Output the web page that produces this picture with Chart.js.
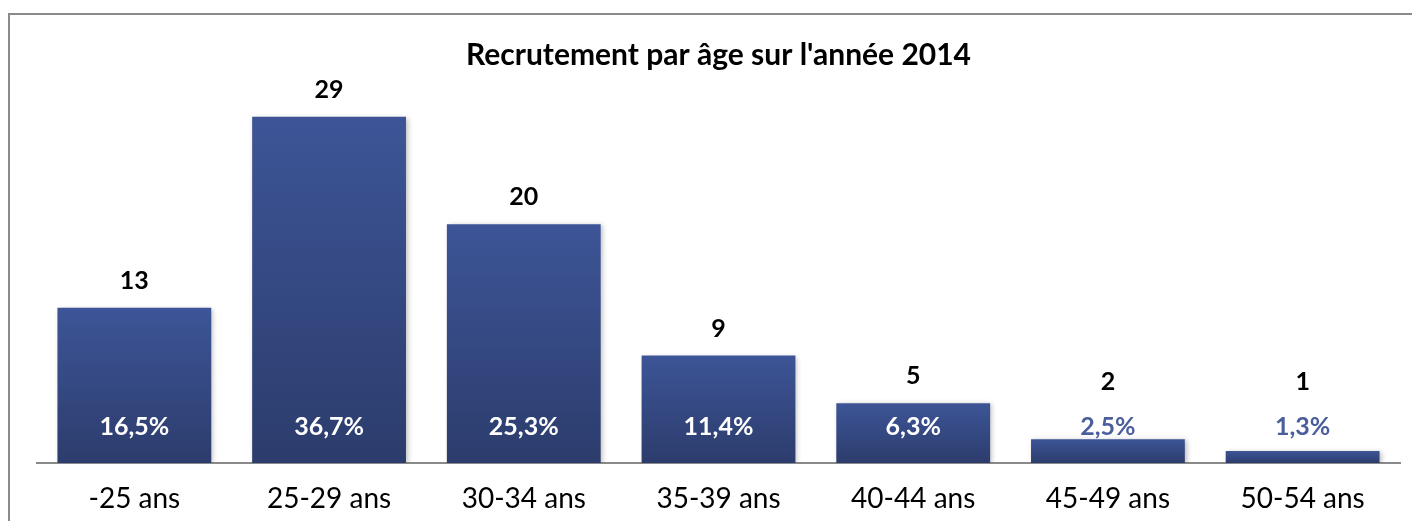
<!DOCTYPE html>
<html>
<head>
<meta charset="utf-8">
<script src="https://cdn.jsdelivr.net/npm/chart.js@4"></script>
<style>
  body { margin: 0; background: #fff; overflow: hidden; }
  #wrap { position: relative; width: 1412px; height: 521px; overflow: hidden; }
  #frame { position: absolute; left: 8px; top: 13px; width: 1500px; height: 600px;
           border-left: 2px solid #8a8a8a; border-top: 2px solid #8a8a8a; }
  canvas { position: absolute; left: 0; top: 0; }
</style>
</head>
<body>
<div id="wrap">
  <div id="frame"></div>
  <canvas id="chart" width="1412" height="521"></canvas>
</div>
<script>
const titleText = "Recrutement par âge sur l'année 2014"
const categories = ['-25 ans', '25-29 ans', '30-34 ans', '35-39 ans', '40-44 ans', '45-49 ans', '50-54 ans']
const counts = [13, 29, 20, 9, 5, 2, 1]
const percents = ['16,5%', '36,7%', '25,3%', '11,4%', '6,3%', '2,5%', '1,3%']

const font = "Lato, 'Open Sans', sans-serif"

// per-bar vertical gradient
function barGradient(context) {
  const chart = context.chart
  const y = chart.scales.y
  if (!chart.chartArea || !y) return '#34498a'
  const top = y.getPixelForValue(context.raw)
  const base = y.getPixelForValue(0)
  const g = chart.ctx.createLinearGradient(0, top, 0, base)
  g.addColorStop(0, '#3d5597')
  g.addColorStop(1, '#2c3c6c')
  return g
}

const labelPlugin = {
  id: 'barLabels',
  afterDatasetsDraw(chart) {
    const ctx = chart.ctx
    const y = chart.scales.y
    const base = y.getPixelForValue(0)
    const pctY = base - 36
    const meta = chart.getDatasetMeta(0)
    ctx.save()
    ctx.textAlign = 'center'
    ctx.textBaseline = 'middle'
    meta.data.forEach((bar, i) => {
      const top = bar.y
      const inside = top < pctY - 14
      ctx.font = 'bold 25px ' + font
      ctx.fillStyle = inside ? '#ffffff' : '#4a5e9c'
      ctx.fillText(percents[i], bar.x, pctY)
      ctx.fillStyle = '#000000'
      ctx.fillText(String(counts[i]), bar.x, Math.min(top, pctY - 18) - 27)
    })
    ctx.restore()
  }
}

const shadowPlugin = {
  id: 'barShadow',
  beforeDatasetsDraw(chart) {
    const ctx = chart.ctx
    ctx.save()
    ctx.shadowColor = 'rgba(0,0,0,0.25)'
    ctx.shadowBlur = 5
    ctx.shadowOffsetX = 2
    ctx.shadowOffsetY = 1
  },
  afterDatasetsDraw(chart) {
    chart.ctx.restore()
  }
}

new Chart(document.getElementById('chart'), {
  type: 'bar',
  data: {
    labels: categories,
    datasets: [{
      data: counts,
      backgroundColor: barGradient,
      categoryPercentage: 0.79,
      barPercentage: 1.0
    }]
  },
  options: {
    responsive: false,
    animation: false,
    layout: { padding: { left: 37, right: 12, top: 0, bottom: 0 } },
    plugins: {
      legend: { display: false },
      tooltip: { enabled: false },
      title: {
        display: true,
        text: titleText,
        color: '#000',
        font: { family: font, size: 30, weight: 'bold' },
        padding: { top: 37, bottom: 8 }
      }
    },
    scales: {
      x: {
        grid: { display: false },
        border: { display: true, color: '#8a8a8a', width: 2 },
        ticks: { color: '#000', font: { family: font, size: 28 }, padding: 11 },
        afterFit(scale) { scale.height = 58 }
      },
      y: {
        display: false,
        min: 0,
        max: 32
      }
    }
  },
  plugins: [shadowPlugin, labelPlugin]
})
</script>
</body>
</html>
